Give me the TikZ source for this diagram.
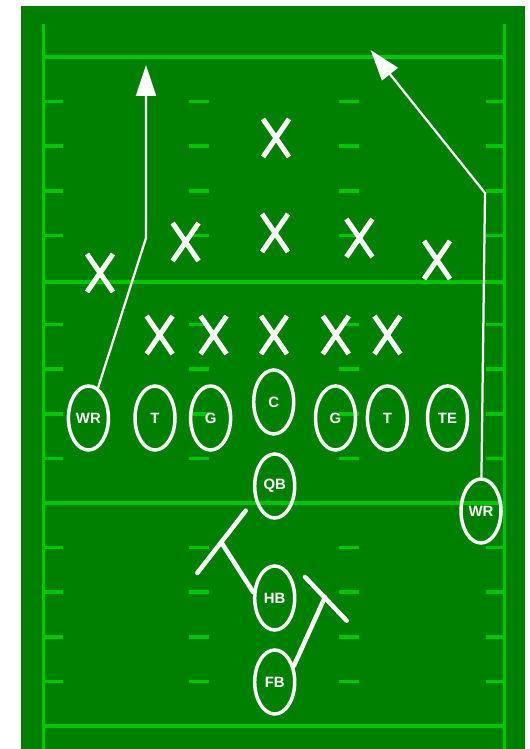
\documentclass[tikz,border=0pt]{standalone}
\usepackage{fontspec}
\setmainfont{Liberation Sans}
\usepackage{xcolor}
\usepackage{tikz}
\usetikzlibrary{shapes.geometric, shapes.misc, arrows.meta, positioning, calc}

\definecolor{turf}{RGB}{0,128,0}
\definecolor{chalk}{RGB}{0,200,0}

\begin{document}
\begin{tikzpicture}[
    x=0.02cm, y=-0.02cm,
    player/.style={ellipse, draw=white, line width=0.07cm, minimum width=0.8cm, minimum height=1.28cm, inner sep=0pt, text=white, font=\bfseries\fontsize{8.5}{8.5}\selectfont},
    defender/.style={cross out, draw=white, line width=0.1cm, minimum width=0.52cm, minimum height=0.76cm, inner sep=0pt, outer sep=0pt},
    stripe/.style={chalk, line width=0.07cm},
    route/.style={draw=white, line width=0.045cm, -{Triangle[length=0.62cm, width=0.4cm]}},
    block/.style={draw=white, line width=0.09cm, line cap=round}
]
% Field
\useasboundingbox (0,0) rectangle (529,749);
\fill[white] (0,0) rectangle (529,749);
\fill[turf] (21,6) rectangle (525,749);
\draw[stripe] (43.5,24) -- (43.5,749);
\draw[stripe] (504.5,24) -- (504.5,749);
\foreach \y in {57,282,503,726}
    \draw[stripe] (43.5,\y) -- (504.5,\y);
\foreach \y in {101.6,146.2,190.8,235.4,324.6,369.2,413.8,458.4,547.6,592.2,636.8,681.4} {
    \draw[stripe] (43.5,\y) -- (63,\y);
    \draw[stripe] (189,\y) -- (209,\y);
    \draw[stripe] (338.5,\y) -- (359,\y);
    \draw[stripe] (486,\y) -- (504.5,\y);
}

% Defense
\node[defender] (fs) at (276, 138) {};
\node[defender] (cbl) at (100, 273) {};
\node[defender] (lbl) at (185.6, 242) {};
\node[defender] (mlb) at (275, 233) {};
\node[defender] (lbr) at (359.4, 238) {};
\node[defender] (cbr) at (437, 260) {};
\node[defender] (del) at (159.6, 335) {};
\node[defender] (dtl) at (213.6, 335) {};
\node[defender] (nt) at (274, 335) {};
\node[defender] (dtr) at (335.8, 335) {};
\node[defender] (der) at (387.4, 335) {};

% Offense
\node[player] (wrl) at (88.4, 418) {WR};
\node[player] (tl) at (155, 418) {T};
\node[player] (gl) at (210.6, 418) {G};
\node[player] (c) at (273.7, 402) {C};
\node[player] (gr) at (335.5, 418) {G};
\node[player] (tr) at (387.4, 418) {T};
\node[player] (te) at (447.5, 418) {TE};
\node[player] (qb) at (274.7, 486) {QB};
\node[player] (wrr) at (481, 511) {WR};
\node[player] (hb) at (274.7, 598) {HB};
\node[player] (fb) at (274.7, 682) {FB};

% Routes
\coordinate (wrlbreak) at (146, 238);
\coordinate (wrltip) at (146, 65);
\coordinate (wrrbreak) at (485, 193);
\coordinate (wrrtip) at (370.6, 50);
\draw[route] (wrl) -- (wrlbreak) -- (wrltip);
\draw[route] (wrr) -- (wrrbreak) -- (wrrtip);

% Blocks
\coordinate (hbblk) at (221.7, 543);
\coordinate (hbbar1) at (197.3, 573);
\coordinate (hbbar2) at (245.7, 510.7);
\coordinate (fbblk) at (325, 597);
\coordinate (fbbar1) at (305, 577);
\coordinate (fbbar2) at (346.7, 620.7);
\draw[block] (hb.165) -- (hbblk);
\draw[block] (hbbar1) -- (hbbar2);
\draw[block] (fb.40) -- (fbblk);
\draw[block] (fbbar1) -- (fbbar2);

\end{tikzpicture}
\end{document}
